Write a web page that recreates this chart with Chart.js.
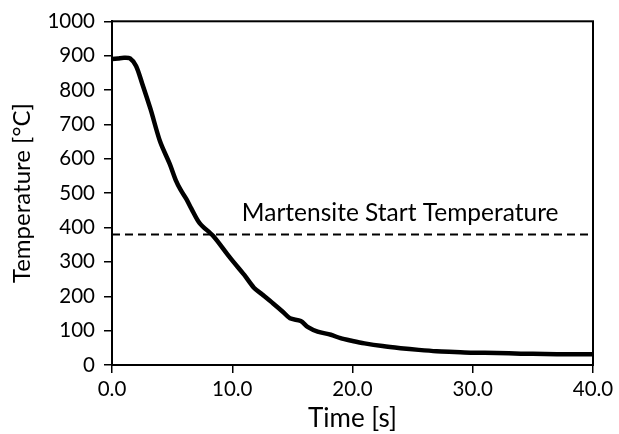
<!DOCTYPE html>
<html>
<head>
<meta charset="utf-8">
<script src="https://cdn.jsdelivr.net/npm/chart.js@4"></script>
<style>
  html, body { margin: 0; padding: 0; background: #fff; }
  #wrap { width: 619px; height: 434px; }
</style>
</head>
<body>
<div id="wrap"><canvas id="chart"></canvas></div>
<script>
// cooling curve
const times = [0, 0.5, 1.0, 1.5, 2.0, 2.5, 3.2, 4.0, 4.8, 5.3, 5.7, 6.2, 6.6, 7.3, 8.4, 9.6, 10.1, 11.0, 11.8, 12.5, 13.4, 14.2, 14.8, 15.7, 16.3, 17.1, 18.2, 19.0, 20.0, 21.0, 22.5, 24.0, 25.5, 27.0, 28.5, 30.0, 32.0, 34.0, 36.0, 38.0, 40.0];
const temps = [890, 892, 894, 892, 870, 820, 745, 650, 585, 538, 510, 482, 455, 412, 376, 322, 300, 262, 225, 205, 179, 155, 136, 128, 110, 97, 88, 78, 70, 63, 55, 49, 44, 40, 38, 36, 35, 33, 32, 31, 31];

const msTemp = 380;
const msLabel = 'Martensite Start Temperature';
const xTitle = 'Time [s]';
const yTitle = 'Temperature [°C]';

const font = 'Lato';

const frame = {
    id: 'frame',
    afterDatasetsDraw(chart) {
        const { ctx, chartArea: a, scales } = chart;
        ctx.save();
        ctx.strokeStyle = '#000';
        ctx.lineWidth = 2;
        ctx.strokeRect(a.left, a.top, a.right - a.left, a.bottom - a.top);
        ctx.font = '24.5px ' + font;
        ctx.fillStyle = '#000';
        ctx.textBaseline = 'alphabetic';
        ctx.fillText(msLabel, scales.x.getPixelForValue(10.8), scales.y.getPixelForValue(418));
        ctx.restore();
    }
};

new Chart(document.getElementById('chart'), {
    type: 'scatter',
    data: {
        datasets: [{
            data: times.map((t, i) => ({ x: t, y: temps[i] })),
            showLine: true,
            borderColor: '#000',
            borderWidth: 4.5,
            pointRadius: 0,
            tension: 0.3
        }, {
            data: [{ x: 0, y: msTemp }, { x: 40, y: msTemp }],
            showLine: true,
            borderColor: '#000',
            borderWidth: 2,
            borderDash: [8, 5],
            pointRadius: 0
        }]
    },
    options: {
        responsive: true,
        maintainAspectRatio: false,
        animation: false,
        layout: { padding: { top: 19, right: 26, left: 0, bottom: 0 } },
        plugins: { legend: { display: false }, tooltip: { enabled: false } },
        scales: {
            x: {
                min: 0, max: 40,
                afterFit(s) { s.height = 69; },
                ticks: { stepSize: 10, color: '#000', font: { family: font, size: 20.5 }, padding: 4,
                         callback: v => v.toFixed(1), maxRotation: 0 },
                grid: { drawOnChartArea: false, drawTicks: true, tickLength: 8, color: '#000', lineWidth: 1.5 },
                border: { display: true, color: '#000', width: 2 },
                title: { display: true, text: xTitle, color: '#000', font: { family: font, size: 26 }, padding: 0 }
            },
            y: {
                min: 0, max: 1000,
                afterFit(s) { s.width = 112; },
                ticks: { stepSize: 100, color: '#000', font: { family: font, size: 20.5 }, padding: 9,
                         callback: v => String(v) },
                grid: { drawOnChartArea: false, drawTicks: true, tickLength: 8, color: '#000', lineWidth: 1.5 },
                border: { display: true, color: '#000', width: 2 },
                title: { display: true, text: yTitle, color: '#000', font: { family: font, size: 24 }, padding: { top: 8, bottom: 0 } }
            }
        }
    },
    plugins: [frame]
});
</script>
</body>
</html>
